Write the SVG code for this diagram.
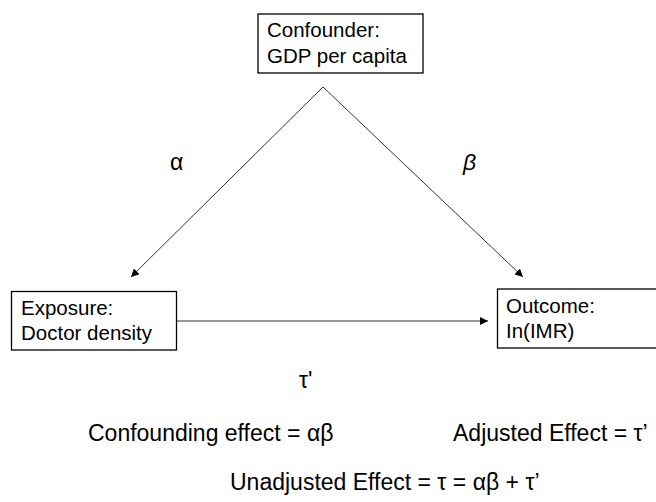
<svg xmlns="http://www.w3.org/2000/svg" width="656" height="502" viewBox="0 0 656 502">
<defs>
<style>
.box{fill:#fff;stroke:#000;stroke-width:1.3}
.t{font-family:"Liberation Sans",Arial,sans-serif;font-size:20.5px;fill:#000}
.b{font-family:"Liberation Sans",Arial,sans-serif;font-size:23px;fill:#000}
.c{stroke:#333;stroke-width:1;fill:none;marker-end:url(#ah)}
</style>
<marker id="ah" viewBox="0 0 10 10" refX="10" refY="5" markerWidth="8" markerHeight="8" markerUnits="userSpaceOnUse" orient="auto">
<path d="M0,0 L10,5 L0,10 z" fill="#000"/>
</marker>
</defs>
<rect width="656" height="502" fill="#fff"/>
<g id="connectors">
<line class="c" x1="323" y1="87" x2="131" y2="277"/>
<line class="c" x1="323" y1="87" x2="523" y2="277"/>
<line class="c" x1="177" y1="321" x2="488" y2="321"/>
</g>
<g id="confounder">
<rect class="box" x="258" y="14" width="165" height="59"/>
<text class="t" x="267" y="37">Confounder:</text>
<text class="t" x="267" y="63">GDP per capita</text>
</g>
<g id="exposure">
<rect class="box" x="11.5" y="291.5" width="165" height="58.5"/>
<text class="t" x="21" y="315">Exposure:</text>
<text class="t" x="21" y="340">Doctor density</text>
</g>
<g id="outcome">
<rect class="box" x="497.5" y="289" width="165" height="59"/>
<text class="t" x="506" y="313">Outcome:</text>
<text class="t" x="506" y="338">In(IMR)</text>
</g>
<g id="labels">
<text class="b" x="170" y="170">α</text>
<text class="b" x="463" y="170" font-style="italic">β</text>
<text class="b" x="299" y="388">τ'</text>
<text class="b" x="88" y="441">Confounding effect = αβ</text>
<text class="b" x="453" y="441">Adjusted Effect = τ’</text>
<text class="b" x="230" y="490">Unadjusted Effect = τ = αβ + τ’</text>
</g>
</svg>
